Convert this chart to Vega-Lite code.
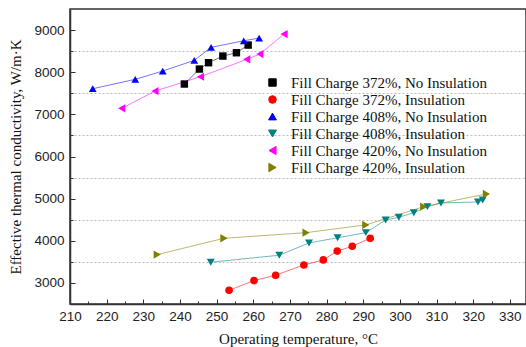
{
  "$schema": "https://vega.github.io/schema/vega-lite/v6.json",
  "autosize": {"type": "none"},
  "padding": {"left": 70, "top": 9, "right": 0, "bottom": 43},
  "width": 456,
  "height": 295,
  "background": "white",
  "config": {
    "view": {"stroke": "#333", "strokeWidth": 1.5},
    "font": "Liberation Sans"
  },
  "data": {
    "values": [
      {"series": "Fill Charge 372%, No Insulation", "t": 241.2, "k": 7720},
      {"series": "Fill Charge 372%, No Insulation", "t": 245.3, "k": 8075},
      {"series": "Fill Charge 372%, No Insulation", "t": 247.8, "k": 8225},
      {"series": "Fill Charge 372%, No Insulation", "t": 251.7, "k": 8383},
      {"series": "Fill Charge 372%, No Insulation", "t": 255.4, "k": 8462},
      {"series": "Fill Charge 372%, No Insulation", "t": 258.6, "k": 8644},
      {"series": "Fill Charge 372%, Insulation", "t": 253.4, "k": 2827},
      {"series": "Fill Charge 372%, Insulation", "t": 260.2, "k": 3055},
      {"series": "Fill Charge 372%, Insulation", "t": 266.1, "k": 3183},
      {"series": "Fill Charge 372%, Insulation", "t": 273.8, "k": 3427},
      {"series": "Fill Charge 372%, Insulation", "t": 279.1, "k": 3546},
      {"series": "Fill Charge 372%, Insulation", "t": 282.9, "k": 3755},
      {"series": "Fill Charge 372%, Insulation", "t": 287.0, "k": 3871},
      {"series": "Fill Charge 372%, Insulation", "t": 291.9, "k": 4060},
      {"series": "Fill Charge 408%, No Insulation", "t": 216.2, "k": 7608},
      {"series": "Fill Charge 408%, No Insulation", "t": 227.8, "k": 7831},
      {"series": "Fill Charge 408%, No Insulation", "t": 235.3, "k": 8028},
      {"series": "Fill Charge 408%, No Insulation", "t": 243.9, "k": 8281},
      {"series": "Fill Charge 408%, No Insulation", "t": 248.5, "k": 8590},
      {"series": "Fill Charge 408%, No Insulation", "t": 257.4, "k": 8746},
      {"series": "Fill Charge 408%, No Insulation", "t": 261.6, "k": 8810},
      {"series": "Fill Charge 408%, Insulation", "t": 248.4, "k": 3492},
      {"series": "Fill Charge 408%, Insulation", "t": 267.1, "k": 3657},
      {"series": "Fill Charge 408%, Insulation", "t": 275.2, "k": 3949},
      {"series": "Fill Charge 408%, Insulation", "t": 283.0, "k": 4072},
      {"series": "Fill Charge 408%, Insulation", "t": 290.7, "k": 4193},
      {"series": "Fill Charge 408%, Insulation", "t": 296.1, "k": 4494},
      {"series": "Fill Charge 408%, Insulation", "t": 299.7, "k": 4558},
      {"series": "Fill Charge 408%, Insulation", "t": 303.8, "k": 4667},
      {"series": "Fill Charge 408%, Insulation", "t": 307.5, "k": 4810},
      {"series": "Fill Charge 408%, Insulation", "t": 311.2, "k": 4898},
      {"series": "Fill Charge 408%, Insulation", "t": 321.3, "k": 4921},
      {"series": "Fill Charge 408%, Insulation", "t": 322.6, "k": 4969},
      {"series": "Fill Charge 420%, No Insulation", "t": 224.1, "k": 7143},
      {"series": "Fill Charge 420%, No Insulation", "t": 233.2, "k": 7553},
      {"series": "Fill Charge 420%, No Insulation", "t": 245.6, "k": 7893},
      {"series": "Fill Charge 420%, No Insulation", "t": 258.2, "k": 8305},
      {"series": "Fill Charge 420%, No Insulation", "t": 261.8, "k": 8431},
      {"series": "Fill Charge 420%, No Insulation", "t": 268.4, "k": 8905},
      {"series": "Fill Charge 420%, Insulation", "t": 233.8, "k": 3672},
      {"series": "Fill Charge 420%, Insulation", "t": 252.0, "k": 4060},
      {"series": "Fill Charge 420%, Insulation", "t": 274.4, "k": 4193},
      {"series": "Fill Charge 420%, Insulation", "t": 290.7, "k": 4376},
      {"series": "Fill Charge 420%, Insulation", "t": 306.5, "k": 4810},
      {"series": "Fill Charge 420%, Insulation", "t": 323.6, "k": 5111}
    ]
  },
  "encoding": {
    "x": {
      "field": "t", "type": "quantitative",
      "scale": {"domain": [210, 334.4], "nice": false, "zero": false},
      "axis": {
        "title": "Operating temperature, °C",
        "values": [210,215,220,225,230,235,240,245,250,255,260,265,270,275,280,285,290,295,300,305,310,315,320,325,330],
        "labelExpr": "datum.value % 10 == 0 ? datum.label : ''",
        "format": "d",
        "grid": false,
        "domainColor": "#333", "domainWidth": 1.5,
        "tickColor": "#333", "tickWidth": 1,
        "tickSize": {"condition": {"test": "datum.value % 10 != 0", "value": -3}, "value": -5},
        "labelPadding": 10,
        "labelFont": "Liberation Sans", "labelFontSize": 13.5, "labelColor": "#222",
        "labelFlush": false,
        "titleFont": "Liberation Serif", "titleFontSize": 15, "titleFontWeight": "normal", "titleColor": "#111",
        "titlePadding": 9
      }
    },
    "y": {
      "field": "k", "type": "quantitative",
      "scale": {"domain": [2500, 9500], "nice": false, "zero": false},
      "axis": {
        "title": "Effective thermal conductivity, W/m·K",
        "values": [3000,3500,4000,4500,5000,5500,6000,6500,7000,7500,8000,8500,9000],
        "labelExpr": "datum.value % 1000 == 0 ? datum.label : ''",
        "format": "d",
        "grid": true,
        "gridColor": "#bbbbbb", "gridDash": [2, 2], "gridWidth": 1,
        "gridOpacity": {"condition": {"test": "datum.value % 1000 != 0", "value": 1}, "value": 0},
        "domainColor": "#333", "domainWidth": 1.5,
        "tickColor": "#333", "tickWidth": 1,
        "tickSize": {"condition": {"test": "datum.value % 1000 != 0", "value": -3}, "value": -5},
        "labelPadding": 11,
        "labelFont": "Liberation Sans", "labelFontSize": 13.5, "labelColor": "#222",
        "labelFlush": false,
        "titleFont": "Liberation Serif", "titleFontSize": 15, "titleFontWeight": "normal", "titleColor": "#111",
        "titlePadding": 10
      }
    },
    "color": {
      "field": "series", "type": "nominal",
      "scale": {
        "domain": ["Fill Charge 372%, No Insulation", "Fill Charge 372%, Insulation", "Fill Charge 408%, No Insulation", "Fill Charge 408%, Insulation", "Fill Charge 420%, No Insulation", "Fill Charge 420%, Insulation"],
        "range": ["#000000", "#ff0000", "#0000ff", "#008080", "#ff00ff", "#808000"]
      },
      "legend": {
        "orient": "none", "legendX": 177, "legendY": 66,
        "title": null, "padding": 0,
        "symbolSize": 64, "symbolOffset": 18, "labelOffset": 11,
        "rowPadding": 1,
        "labelFont": "Liberation Serif", "labelFontSize": 15, "labelColor": "#111",
        "labelLimit": 400,
        "symbolStrokeWidth": 1,
        "symbolOpacity": 1
      }
    }
  },
  "layer": [
    {
      "mark": {"type": "line", "strokeWidth": 1, "strokeOpacity": 0.55}
    },
    {
      "mark": {"type": "point", "filled": true, "opacity": 1},
      "encoding": {
        "shape": {
          "field": "series", "type": "nominal", "legend": null,
          "scale": {
            "domain": ["Fill Charge 372%, No Insulation", "Fill Charge 372%, Insulation", "Fill Charge 408%, No Insulation", "Fill Charge 408%, Insulation", "Fill Charge 420%, No Insulation", "Fill Charge 420%, Insulation"],
            "range": ["square", "circle", "triangle-up", "triangle-down", "triangle-left", "triangle-right"]
          }
        },
        "size": {
          "field": "series", "type": "nominal", "legend": null,
          "scale": {
            "domain": ["Fill Charge 372%, No Insulation", "Fill Charge 372%, Insulation", "Fill Charge 408%, No Insulation", "Fill Charge 408%, Insulation", "Fill Charge 420%, No Insulation", "Fill Charge 420%, Insulation"],
            "range": [55, 70, 95, 95, 95, 95]
          }
        }
      }
    }
  ]
}
